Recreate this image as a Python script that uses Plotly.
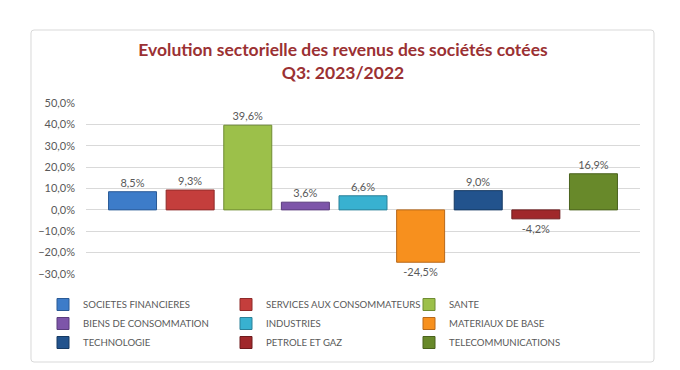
import plotly.graph_objects as go

categories = ["SOCIETES FINANCIERES", "SERVICES AUX CONSOMMATEURS", "SANTE",
              "BIENS DE CONSOMMATION", "INDUSTRIES", "MATERIAUX DE BASE",
              "TECHNOLOGIE", "PETROLE ET GAZ", "TELECOMMUNICATIONS"]
values = [0.085, 0.093, 0.396, 0.036, 0.066, -0.245, 0.090, -0.042, 0.169]
colors = ["#3d7cc9", "#c43e3c", "#9cc04a", "#7d55a9", "#38b1d0",
          "#f7901e", "#22538d", "#a0282b", "#68892a"]
edges = ["#2a5a96", "#8e2a29", "#6f8c33", "#5a3c7d", "#2a8199",
         "#b8681a", "#163a63", "#6e1b1d", "#4a621d"]
tick_vals = [0.5, 0.4, 0.3, 0.2, 0.1, 0.0, -0.1, -0.2, -0.3]

W, H = 680, 370
L, R, T, B = 78, 48, 95, 104
pw, ph = W - L - R, H - T - B

fig = go.Figure()
for name, v, c, e in zip(categories, values, colors, edges):
    fig.add_trace(go.Bar(
        x=["Q3"], y=[v], name=name,
        marker=dict(color=c, line=dict(color=e, width=1)),
        texttemplate="%{y:.1%}", textposition="outside",
        textfont=dict(size=11, color="#595959"),
        cliponaxis=False, constraintext="none",
    ))

def P(x, y):
    return f"{(x - L) / pw:.5f},{(H - B - y) / ph:.5f}"

# rounded chart border
x0, y0, x1, y1, r = 23, 22, 646, 354, 3
path = (f"M{P(x0 + r, y0)} L{P(x1 - r, y0)} Q{P(x1, y0)} {P(x1, y0 + r)} "
        f"L{P(x1, y1 - r)} Q{P(x1, y1)} {P(x1 - r, y1)} "
        f"L{P(x0 + r, y1)} Q{P(x0, y1)} {P(x0, y1 - r)} "
        f"L{P(x0, y0 + r)} Q{P(x0, y0)} {P(x0 + r, y0)} Z")

fig.update_layout(
    width=W, height=H,
    margin=dict(l=L, r=R, t=T, b=B, autoexpand=False),
    paper_bgcolor="white", plot_bgcolor="white",
    separators=", ",
    font=dict(family="Lato, sans-serif", size=11, color="#595959"),
    title=dict(
        text="Evolution sectorielle des revenus des sociétés cotées<br>Q3: 2023/2022",
        x=335 / W, xref="container", xanchor="center",
        y=1 - 48 / H, yref="container", yanchor="top",
        font=dict(family="Lato, sans-serif", size=17.5, color="#9b3133", weight="bold"),
    ),
    barmode="group", bargap=0.064, bargroupgap=0.167,
    showlegend=True,
    legend=dict(
        orientation="h", xref="container", yref="container",
        x=35 / W, xanchor="left", y=1 - 282 / H, yanchor="top",
        entrywidth=138, entrywidthmode="pixels",
        font=dict(size=9.6, color="#595959"),
        traceorder="normal", bgcolor="rgba(0,0,0,0)",
    ),
    xaxis=dict(showticklabels=False, showgrid=False, zeroline=False,
               showline=False, fixedrange=True),
    yaxis=dict(range=[-0.3, 0.5], tickvals=tick_vals, tickformat=".1%",
               showgrid=True, gridcolor="#d9d9d9", gridwidth=1,
               zeroline=True, zerolinecolor="#d9d9d9", zerolinewidth=1,
               showline=False, ticks="", ticklabelstandoff=10,
               tickfont=dict(size=11, color="#595959")),
    shapes=[dict(type="path", path=path, xref="paper", yref="paper",
                 line=dict(color="#d9d9d9", width=1), layer="below")],
)

fig.write_html("out.html")
